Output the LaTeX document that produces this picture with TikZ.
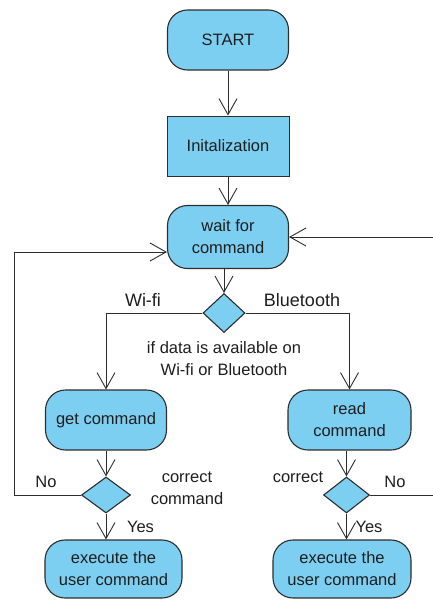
\documentclass[tikz,border=0pt]{standalone}
\usepackage{fontspec}
\setmainfont{Liberation Sans}
\usetikzlibrary{shapes.geometric, arrows.meta, positioning}
\definecolor{azulcaja}{RGB}{125,207,242}
\definecolor{borde}{RGB}{45,45,45}
\definecolor{texto}{RGB}{30,30,30}

\begin{document}
\begin{tikzpicture}[x=1pt,y=-1pt]
	\tikzstyle{estado} = [draw=borde, fill=azulcaja, rounded corners=20pt, line width=1.1pt, minimum width=121pt, minimum height=60pt, inner sep=0pt, align=center, text=texto, font=\fontsize{16.5}{22}\selectfont]
	\tikzstyle{proceso} = [estado, rounded corners=0pt, line width=0.9pt]
	\tikzstyle{decision} = [diamond, draw=borde, fill=azulcaja, line width=1.1pt, inner sep=0pt, minimum width=42pt, minimum height=39pt]
	\tikzstyle{etiqueta} = [inner sep=0pt, align=center, text=texto, font=\fontsize{16.5}{22}\selectfont]
	\tikzstyle{line} = [draw=borde, line width=0.9pt, -{Straight Barb[length=16pt,width=18pt]}]
	\useasboundingbox (0,0) rectangle (433,600);
	
	% Cajas
	\node[estado] (start) at (228,40) {START};
	\node[proceso, minimum width=122pt] (init) at (228,146) {Initalization};
	\node[estado, minimum height=63pt] (wait) at (228,237) {wait for\\command};
	\node[decision] (dec1) at (224,313) {};
	\node[estado] (getcmd) at (106,420) {get command};
	\node[estado, minimum width=123pt] (readcmd) at (349.5,420) {read\\command};
	\node[decision, minimum width=49pt, minimum height=36pt] (dec2) at (106,495) {};
	\node[decision, minimum width=46pt, minimum height=36pt] (dec3) at (346.5,495) {};
	\node[estado, minimum width=137pt, minimum height=58pt] (exec1) at (113.5,569) {execute the\\user command};
	\node[estado, minimum width=138pt, minimum height=58pt] (exec2) at (342,569) {execute the\\user command};
	
	% Etiquetas
	\node[etiqueta, font=\fontsize{18}{22}\selectfont] (wifi) at (143,300) {Wi-fi};
	\node[etiqueta, font=\fontsize{18}{22}\selectfont] (bt) at (302,300) {Bluetooth};
	\node[etiqueta] (cond) at (224,359) {if data is available on\\Wi-fi or Bluetooth};
	\node[etiqueta] (no1) at (46,482) {No};
	\node[etiqueta] (corr1) at (187,488) {correct\\command};
	\node[etiqueta] (si1) at (140.5,527) {Yes};
	\node[etiqueta] (corr2) at (298,477) {correct};
	\node[etiqueta] (no2) at (395,482) {No};
	\node[etiqueta] (si2) at (369,527) {Yes};
	
	% Flechas
	\path [line] (start) -- (init);
	\path [line] (init) -- (wait);
	\path [line] (wait.south -| dec1) -- (dec1.north);
	\path [line] (dec1.west) -| (getcmd.north);
	\path [line] (dec1.east) -| (readcmd.north);
	\path [line] (getcmd.south -| dec2) -- (dec2.north);
	\path [line] (readcmd.south -| dec3) -- (dec3.north);
	\path [line] (dec2.south) -- (dec2.south |- exec1.north);
	\path [line] (dec3.south) -- (dec3.south |- exec2.north);
	
	% Retornos
	\coordinate (izq) at (14,495);
	\coordinate (derabajo) at (433,495);
	\coordinate (derarriba) at (433,237);
	\path [line] (dec2.west) -- (izq) |- ([yshift=-15pt]wait.west);
	\draw [borde, line width=0.9pt] (dec3.east) -- (derabajo);
	\path [line] (derarriba) -- (wait.east);
\end{tikzpicture}
\end{document}
